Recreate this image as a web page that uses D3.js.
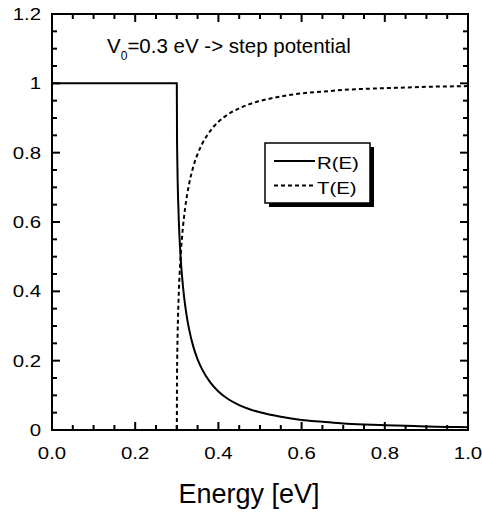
<!DOCTYPE html>
<html>
<head>
<meta charset="utf-8">
<script src="https://cdn.jsdelivr.net/npm/d3@7"></script>
<style>
  body { margin: 0; background: #fff; }
  text { font-family: "Liberation Sans", Arial, sans-serif; fill: #000; }
</style>
</head>
<body>
<div class="chart"></div>
<script>
// values
var energy   = [0, 0.3, 0.3005, 0.301, 0.302, 0.303, 0.305, 0.3075, 0.31, 0.315, 0.32, 0.325, 0.33, 0.34, 0.35, 0.36, 0.38, 0.4, 0.425, 0.45, 0.475, 0.5, 0.55, 0.6, 0.65, 0.7, 0.75, 0.8, 0.85, 0.9, 0.95, 1.0];
var reflect  = [1, 1, 0.849, 0.794, 0.722, 0.671, 0.598, 0.533, 0.484, 0.412, 0.360, 0.320, 0.288, 0.239, 0.204, 0.177, 0.138, 0.111, 0.088, 0.072, 0.060, 0.051, 0.038, 0.029, 0.024, 0.019, 0.016, 0.014, 0.012, 0.010, 0.009, 0.008];
var transmit = [0, 0, 0.151, 0.206, 0.278, 0.329, 0.402, 0.467, 0.516, 0.588, 0.640, 0.680, 0.712, 0.761, 0.796, 0.823, 0.862, 0.889, 0.912, 0.928, 0.940, 0.949, 0.962, 0.971, 0.976, 0.981, 0.984, 0.986, 0.988, 0.990, 0.991, 0.992];

var xTicks = [0, 0.2, 0.4, 0.6, 0.8, 1.0];
var xTickLabels = ["0.0", "0.2", "0.4", "0.6", "0.8", "1.0"];
var yTicks = [0, 0.2, 0.4, 0.6, 0.8, 1.0, 1.2];
var yTickLabels = ["0", "0.2", "0.4", "0.6", "0.8", "1", "1.2"];
var seriesNames = ["R(E)", "T(E)"];

var width = 482, height = 515;
var margin = { left: 52, top: 14, right: 14, bottom: 85 };
var plotW = width - margin.left - margin.right;
var plotH = height - margin.top - margin.bottom;
var stretch = 1.2; // tick/legend text looks horizontally stretched

var svg = d3.select(".chart").append("svg")
    .attr("width", width)
    .attr("height", height);

var g = svg.append("g")
    .attr("transform", "translate(" + margin.left + "," + margin.top + ")");

var x = d3.scaleLinear().domain([0, 1]).range([0, plotW]);
var y = d3.scaleLinear().domain([0, 1.2]).range([plotH, 0]);

var minorX = d3.range(0, 1.0001, 0.05);
var minorY = d3.range(0, 1.2001, 0.05);

//////// ticks (inward, all four sides)
function isMajor(v) { return Math.abs(v / 0.2 - Math.round(v / 0.2)) < 1e-6; }
var tg = g.append("g").attr("stroke", "#000").attr("stroke-width", 2);
[plotH, 0].forEach(function(base) {
    var dir = base === 0 ? 1 : -1;
    tg.selectAll(null).data(minorX).enter().append("line")
        .attr("x1", function(d) { return x(d); })
        .attr("x2", function(d) { return x(d); })
        .attr("y1", base)
        .attr("y2", function(d) { return base + dir * (isMajor(d) ? 8 : 5); });
});
[0, plotW].forEach(function(base) {
    var dir = base === 0 ? 1 : -1;
    tg.selectAll(null).data(minorY).enter().append("line")
        .attr("y1", function(d) { return y(d); })
        .attr("y2", function(d) { return y(d); })
        .attr("x1", base)
        .attr("x2", function(d) { return base + dir * (isMajor(d) ? 8 : 5); });
});

// tick labels
g.selectAll(".xlab").data(xTicks).enter().append("text")
    .attr("class", "xlab")
    .attr("transform", function(d) { return "translate(" + x(d) + "," + (plotH + 29) + ") scale(" + stretch + ",1)"; })
    .attr("text-anchor", "middle")
    .attr("font-size", "17px")
    .text(function(d, i) { return xTickLabels[i]; });

g.selectAll(".ylab").data(yTicks).enter().append("text")
    .attr("class", "ylab")
    .attr("transform", function(d) { return "translate(-11," + (y(d) + 6) + ") scale(" + stretch + ",1)"; })
    .attr("text-anchor", "end")
    .attr("font-size", "17px")
    .text(function(d, i) { return yTickLabels[i]; });

//////// curves
var pts = function(vals) {
    return energy.map(function(e, i) { return [e, vals[i]]; });
};
var line = d3.line()
    .x(function(d) { return x(d[0]); })
    .y(function(d) { return y(d[1]); })
    .curve(d3.curveMonotoneX);

g.append("path")
    .attr("d", line(pts(transmit)))
    .attr("fill", "none")
    .attr("stroke", "#000")
    .attr("stroke-width", 2)
    .attr("stroke-dasharray", "4,3");

g.append("path")
    .attr("d", line(pts(reflect)))
    .attr("fill", "none")
    .attr("stroke", "#000")
    .attr("stroke-width", 2);

// frame
g.append("rect")
    .attr("width", plotW)
    .attr("height", plotH)
    .attr("fill", "none")
    .attr("stroke", "#000")
    .attr("stroke-width", 2);

//////// annotation
var note = svg.append("text")
    .attr("x", 107)
    .attr("y", 53)
    .attr("font-size", "20.5px");
note.append("tspan").text("V");
note.append("tspan").attr("font-size", "12px").attr("dy", 7).text("0");
note.append("tspan").attr("dy", -7).text("=0.3 eV -> step potential");

//////// legend
var lg = svg.append("g").attr("transform", "translate(265,143)");
lg.append("rect")
    .attr("x", 4).attr("y", 4)
    .attr("width", 105).attr("height", 60)
    .attr("fill", "#000");
lg.append("rect")
    .attr("width", 105).attr("height", 60)
    .attr("fill", "#fff")
    .attr("stroke", "#000")
    .attr("stroke-width", 1.5);

var items = lg.selectAll(".item").data(seriesNames).enter().append("g")
    .attr("transform", function(d, i) { return "translate(0," + (18 + i * 24.5) + ")"; });
items.append("line")
    .attr("x1", 9).attr("x2", 50)
    .attr("stroke", "#000")
    .attr("stroke-width", 2)
    .attr("stroke-dasharray", function(d, i) { return i === 0 ? null : "4,3"; });
items.append("text")
    .attr("transform", "translate(52,8) scale(" + stretch + ",1)")
    .attr("font-size", "17px")
    .text(function(d) { return d; });

//////// axis title
svg.append("text")
    .attr("x", 249)
    .attr("y", 503)
    .attr("text-anchor", "middle")
    .attr("font-size", "27px")
    .text("Energy [eV]");
</script>
</body>
</html>
